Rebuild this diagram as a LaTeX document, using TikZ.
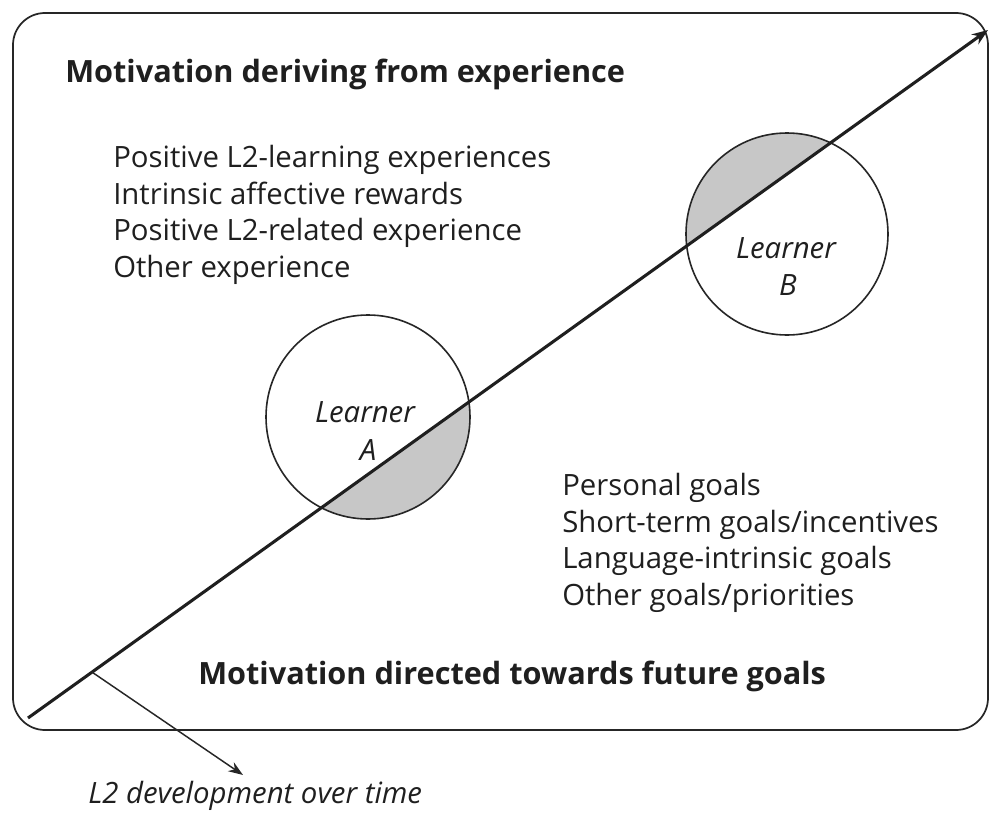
\documentclass[tikz,border=0pt]{standalone}
\usepackage{fontspec}
\setmainfont{Open Sans}
\usetikzlibrary{arrows.meta,calc}
\begin{document}
\begin{tikzpicture}[x=0.75pt,y=-0.75pt,
  body/.style={font=\fontsize{22}{27}\selectfont, inner sep=0pt, anchor=base west, text=black!88},
  head/.style={font=\fontsize{23}{28}\selectfont\bfseries, inner sep=0pt, anchor=base west, text=black!88},
  ital/.style={font=\fontsize{22}{27}\selectfont\itshape, inner sep=0pt, anchor=base, text=black!88},
  learner/.style={circle, draw=black!85, line width=1.2pt, inner sep=0pt, outer sep=0pt},
  segfill/.style={fill=black!22},
  frame/.style={draw=black!85, line width=1.3pt, rounded corners=24pt},
  timeline/.style={draw=black!88, line width=2.3pt, -{Stealth[length=12pt,width=9pt]}},
  pointer/.style={draw=black!85, line width=1.1pt, -{Stealth[length=11pt,width=8pt]}}]
\useasboundingbox (0,0) rectangle (990,814);
\fill[white] (0,0) rectangle (990,814);
% frame
\draw[frame] (13,13) rectangle (988,730);
% time line end points
\coordinate (t0) at (28,718);
\coordinate (t1) at (988,30);
% shaded segments
\begin{scope}
  \clip (368,417) circle [radius=102];
  \fill[segfill] (t0) -- (t1) -- (1000,800) -- (0,800) -- cycle;
\end{scope}
\begin{scope}
  \clip (787,234) circle [radius=101];
  \fill[segfill] (t0) -- (t1) -- (1000,-10) -- (-10,-10) -- cycle;
\end{scope}
% circles
\node[learner, minimum size=153pt] (lA) at (368,417) {};
\node[learner, minimum size=151.5pt] (lB) at (787,234) {};
% time line
\draw[timeline] (t0) -- (t1);
% pointer to label
\coordinate (t2) at ($(t0)!0.0667!(t1)$);
\coordinate (t3) at (243,775);
\draw[pointer] (t2) -- (t3);
\node[ital, anchor=base west] (dev) at (88,803) {L2 development over time};
% learner labels
\node[ital] (lAa) at (365,422) {Learner};
\node[ital] (lAb) at (368,460) {A};
\node[ital] (lBa) at (786,258) {Learner};
\node[ital] (lBb) at (788,295) {B};
% headings
\node[head] (h1) at (65,82) {Motivation deriving from experience};
\node[head] (h2) at (198,684) {Motivation directed towards future goals};
% experience list
\node[body] (e1) at (113,167) {Positive L2-learning experiences};
\node[body] (e2) at (113,204) {Intrinsic affective rewards};
\node[body] (e3) at (113,240) {Positive L2-related experience};
\node[body] (e4) at (113,277) {Other experience};
% goals list
\node[body] (g1) at (562,495) {Personal goals};
\node[body] (g2) at (562,532) {Short-term goals/incentives};
\node[body] (g3) at (562,568) {Language-intrinsic goals};
\node[body] (g4) at (562,605) {Other goals/priorities};
\end{tikzpicture}
\end{document}
